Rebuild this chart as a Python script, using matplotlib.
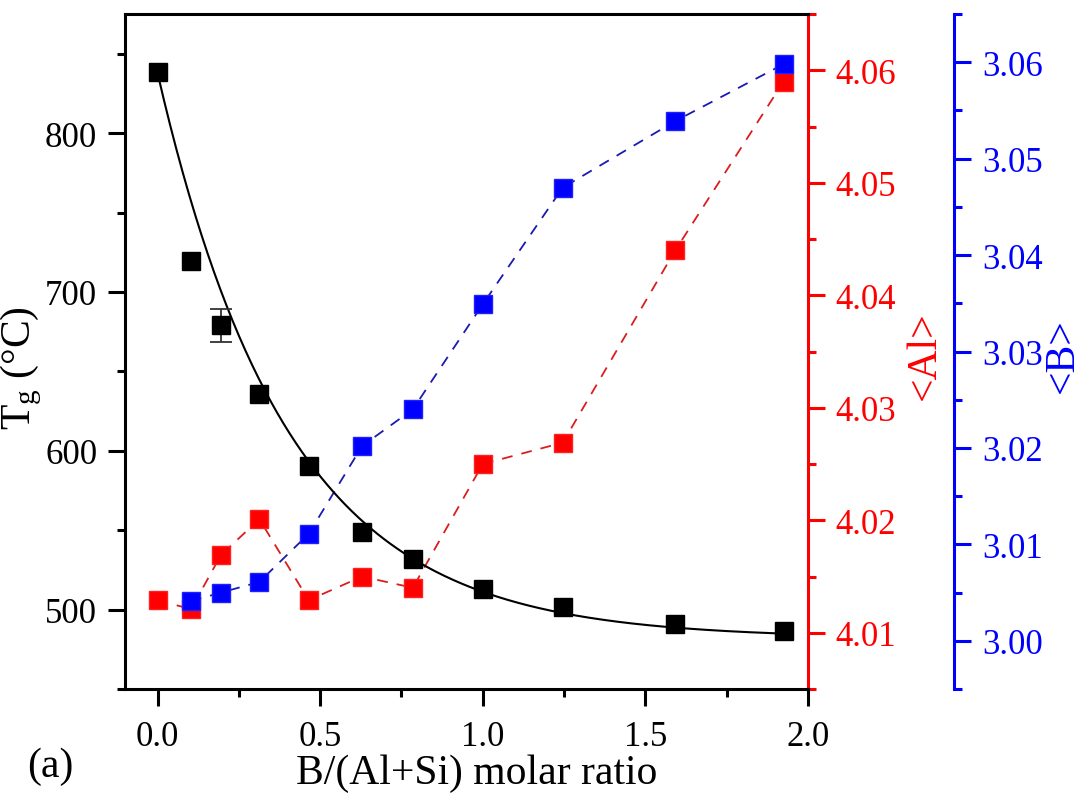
import numpy as np
import matplotlib
matplotlib.use("Agg")
import matplotlib.pyplot as plt
from matplotlib.ticker import MultipleLocator

plt.rcParams['font.family'] = ['Liberation Serif', 'DejaVu Serif']
plt.rcParams['mathtext.fontset'] = 'custom'
plt.rcParams['mathtext.rm'] = 'Liberation Serif'
plt.rcParams['mathtext.it'] = 'Liberation Serif:italic'

# B/(Al+Si) molar ratio
ratio = [0.0, 0.103, 0.195, 0.313, 0.465, 0.629, 0.785, 1.0, 1.246, 1.592, 1.925]
# glass transition temperature (°C)
tg = [838.5, 719.2, 679.0, 635.5, 590.6, 549.0, 532.0, 513.2, 501.7, 490.8, 486.6]
tg_err = [0, 0, 10.5, 0, 0, 0, 0, 0, 0, 0, 0]
# mean coordination numbers
al_cn = [4.0129, 4.0121, 4.0169, 4.0201, 4.0129, 4.0150, 4.0140, 4.0250, 4.0269, 4.0440, 4.0590]
b_ratio = [0.103, 0.195, 0.313, 0.465, 0.629, 0.785, 1.0, 1.246, 1.592, 1.925]
b_cn = [3.0041, 3.0050, 3.0061, 3.0111, 3.0202, 3.0240, 3.0349, 3.0470, 3.0539, 3.0598]

# exponential decay fit parameters (y = y0 + A*exp(-x/t))
fit_y0 = 482.0
fit_a = 356.0
fit_t = 0.40

x_fit = np.linspace(0, max(ratio), 300)
y_fit = fit_y0 + fit_a * np.exp(-x_fit / fit_t)

fig = plt.figure(figsize=(10.83, 8.03), dpi=100)
ax = fig.add_axes([0.1154, 0.1407, 0.6307, 0.8406])
ax_al = ax.twinx()
ax_b = ax.twinx()

ax_al.set_zorder(1)
ax_b.set_zorder(2)
ax.set_zorder(3)
for a in (ax, ax_al, ax_b):
    a.patch.set_visible(False)

red = '#FF0000'
blue = '#0000FF'

ax.plot(x_fit, y_fit, color='black', lw=1.5, zorder=2)
ax.plot(ratio, tg, 's', color='black', ms=12.5, zorder=3)
ex = [r for r, e in zip(ratio, tg_err) if e > 0]
ey = [v for v, e in zip(tg, tg_err) if e > 0]
ee = [e for e in tg_err if e > 0]
ax.errorbar(ex, ey, yerr=ee, fmt='none', ecolor='#333333', elinewidth=1.3,
            capsize=8, capthick=1.3, zorder=2)

ax_al.plot(ratio, al_cn, '--', color='#D81E1E', lw=1.3, dashes=(6, 5))
ax_al.plot(ratio, al_cn, 's', color=red, ms=12.5, mec='#FF2020')

ax_b.plot(b_ratio, b_cn, '--', color='#1A1AB0', lw=1.3, dashes=(6, 5))
ax_b.plot(b_ratio, b_cn, 's', color=blue, ms=12.5, mec='#2020FF')

ax.set_xlim(-0.1, 2.0)
ax.set_ylim(450, 875)
ax_al.set_ylim(4.005, 4.065)
ax_b.set_ylim(2.995, 3.065)

ax.xaxis.set_major_locator(MultipleLocator(0.5))
ax.xaxis.set_minor_locator(MultipleLocator(0.25))
ax.yaxis.set_major_locator(MultipleLocator(100))
ax.yaxis.set_minor_locator(MultipleLocator(50))
ax_al.yaxis.set_major_locator(MultipleLocator(0.01))
ax_al.yaxis.set_minor_locator(MultipleLocator(0.005))
ax_b.yaxis.set_major_locator(MultipleLocator(0.01))
ax_b.yaxis.set_minor_locator(MultipleLocator(0.005))

ax.xaxis.set_major_formatter(plt.FormatStrFormatter('%.1f'))
ax_al.yaxis.set_major_formatter(plt.FormatStrFormatter('%.2f'))
ax_b.yaxis.set_major_formatter(plt.FormatStrFormatter('%.2f'))

# spines
ax.spines['right'].set_visible(False)
for s in ('left', 'bottom', 'top'):
    ax.spines[s].set_linewidth(2.2)
for s in ('left', 'bottom', 'top'):
    ax_al.spines[s].set_visible(False)
    ax_b.spines[s].set_visible(False)
ax_al.spines['right'].set_color(red)
ax_al.spines['right'].set_linewidth(2.2)
ax_b.spines['right'].set_position(('axes', 1.2138))
ax_b.spines['right'].set_color(blue)
ax_b.spines['right'].set_linewidth(2.2)

ax.tick_params(axis='both', which='major', direction='out', length=12, width=2.2,
               labelsize=25, pad=8, top=False, right=False)
ax.tick_params(axis='both', which='minor', direction='out', length=6, width=2.2,
               top=False, right=False)
ax.tick_params(axis='x', which='major', pad=10)
ax_al.tick_params(axis='y', which='major', direction='out', length=12, width=2.2,
                  labelsize=25, pad=8, colors=red)
ax_al.tick_params(axis='y', which='minor', direction='out', length=6, width=2.2, colors=red)
ax_b.tick_params(axis='y', which='major', direction='out', length=12, width=2.2,
                 labelsize=25, pad=8, colors=blue)
ax_b.tick_params(axis='y', which='minor', direction='out', length=6, width=2.2, colors=blue)

ax.set_xlabel('B/(Al+Si) molar ratio', fontsize=30)
ax.xaxis.set_label_coords(0.515, -0.095)
ax.set_ylabel(r'T$_\mathrm{g}$ (°C)', fontsize=30)
ax.yaxis.set_label_coords(-0.118, 0.477)
ax_al.set_ylabel('<Al>', fontsize=30, color=red)
ax_al.yaxis.set_label_coords(1.142, 0.496)
ax_b.set_ylabel('<B>', fontsize=30, color=blue)
ax_b.yaxis.set_label_coords(1.345, 0.496)

fig.text(0.025, 0.045, '(a)', fontsize=30, ha='left', va='center')

fig.savefig('out.png', dpi=100)
